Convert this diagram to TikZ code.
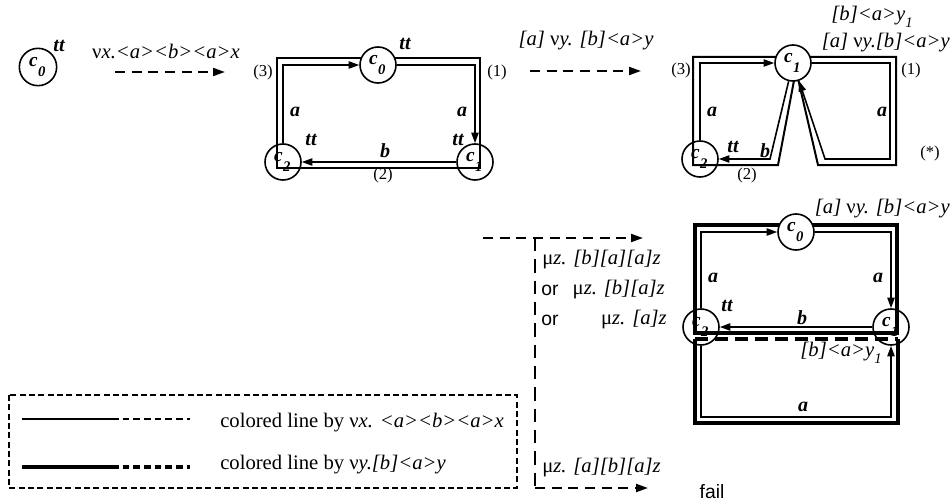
\documentclass[tikz,border=0pt]{standalone}
\usepackage{fontspec}
\setmainfont{Liberation Serif}
\newfontfamily\sansfam{Liberation Sans}
\usetikzlibrary{arrows.meta}
\newcommand{\sbx}[1]{\raisebox{-0.35em}{\fontsize{11}{11}\selectfont #1}}
\newcommand{\cst}[1]{\kern-1pt c\kern0.3pt\raisebox{-0.55em}{\fontsize{11}{11}\selectfont #1}}
\tikzset{
  state/.style={circle, draw, line width=1.2pt, minimum size=27pt, inner sep=0pt,
    font=\fontsize{14.5}{14.5}\selectfont\bfseries\itshape},
  wstate/.style={state, fill=white},
  edge/.style={line width=1.2pt, -{Triangle[length=8pt,width=5.5pt]}},
  contour/.style={line width=1.5pt, line join=miter},
  thickcontour/.style={line width=3pt, line join=miter},
  lbl/.style={inner sep=0pt, font=\fontsize{15}{15}\selectfont\bfseries\itshape},
  formula/.style={inner sep=0pt, font=\fontsize{15.5}{18}\selectfont\itshape},
  legtext/.style={inner sep=0pt, font=\fontsize{15.5}{18}\selectfont},
  num/.style={inner sep=0pt, font=\fontsize{12.5}{14}\selectfont},
  sanslbl/.style={inner sep=0pt, font=\fontsize{14.5}{16}\selectfont\sansfam},
  darrow/.style={line width=1.5pt, dash pattern=on 7.5pt off 5pt, -{Triangle[length=9pt,width=6pt]}},
  vdash/.style={line width=1.5pt, dash pattern=on 10pt off 6pt},
  legbox/.style={line width=1.2pt, dash pattern=on 4.5pt off 2.5pt},
  legthin/.style={line width=1.2pt},
  legthick/.style={line width=2.6pt},
}
\begin{document}
\begin{tikzpicture}[x=0.75pt,y=-0.75pt]
\path[use as bounding box] (0,0) rectangle (952,503);

% ---------- top-left state and first transformation ----------
\node[state, minimum size=28pt] (s0) at (38,67) {\cst{0}};
\node[lbl] (s0tt) at (59,46) {tt};
\node[formula] (f1) at (166,51) {\textup{ν}x.<a><b><a>x};
\coordinate (t1s) at (115,72);
\coordinate (t1e) at (225,72);
\draw[darrow] (t1s) -- (t1e);

% ---------- middle graph ----------
\draw[contour] (277,58) rectangle (480,168);
\node[wstate] (m0) at (378,65) {\cst{0}};
\node[state] (m1) at (475,162) {\cst{1}};
\node[state] (m2) at (283,162) {\cst{2}};
\draw[edge] (m2.north) |- (m0);
\draw[edge] (m0) -| (m1);
\draw[edge] (m1) -- (m2);
\node[lbl] (m0tt) at (405,44) {tt};
\node[lbl] (m2tt) at (311,140) {tt};
\node[lbl] (m1tt) at (458,140) {tt};
\node[lbl] (ma1) at (295,112) {a};
\node[lbl] (ma2) at (462,112) {a};
\node[lbl] (mb) at (385,151) {b};
\node[num] (m3n) at (263,72) {(3)};
\node[num] (m1n) at (497,72) {(1)};
\node[num] (m2n) at (383,175) {(2)};

% ---------- second transformation ----------
\node[formula] (f2) at (586,41) {[a] \textup{ν}y. [b]<a>y};
\coordinate (t2s) at (530,71);
\coordinate (t2e) at (641,71);
\draw[darrow] (t2s) -- (t2e);

% ---------- top-right graph ----------
\draw[contour] (693,57) -- (896,57) -- (896,165) -- (818,165) -- (796,70) -- (778,165) -- (693,165) -- cycle;
\node[wstate] (r1) at (793,63) {\cst{1}};
\node[state] (r2) at (700,159) {\cst{2}};
\coordinate (rA) at (890,159);
\coordinate (rB) at (825,159);
\coordinate (rC) at (770,159);
\draw[edge] (r2) |- (r1);
\draw[edge] (r1) -| (rA) -- (rB) -- (r1);
\draw[edge] (r1) -- (rC) -- (r2);
\node[formula] (f3) at (872,17) {[b]<a>y\sbx{1}};
\node[formula, anchor=east] (f4) at (950,43) {[a] \textup{ν}y.[b]<a>y};
\node[num] (r3n) at (681,70) {(3)};
\node[num] (r1n) at (911,70) {(1)};
\node[num] (r2n) at (747,175) {(2)};
\node[num] (rsn) at (930,153) {(*)};
\node[lbl] (ra1) at (712,112) {a};
\node[lbl] (ra2) at (882,112) {a};
\node[lbl] (rtt) at (733,147) {tt};
\node[lbl] (rb) at (765,151) {b};

% ---------- left branching arrows ----------
\coordinate (lin) at (483,238);
\coordinate (lsplit) at (535,238);
\coordinate (lout1) at (643,238);
\coordinate (lcorner) at (535,488);
\coordinate (lout2) at (648,488);
\draw[darrow] (lin) -- (lout1);
\draw[vdash] (lsplit) -- (lcorner);
\draw[darrow] (lcorner) -- (lout2);
\node[formula, anchor=west] (mu1) at (542,260) {\textup{μ}z. [b][a][a]z};
\node[sanslbl, anchor=west] (or1) at (541,290) {or};
\node[formula, anchor=east] (mu2) at (665,290) {\textup{μ}z. [b][a]z};
\node[sanslbl, anchor=west] (or2) at (541,320) {or};
\node[formula, anchor=east] (mu3) at (667,320) {\textup{μ}z. [a]z};
\node[formula, anchor=west] (mu4) at (542,468) {\textup{μ}z. [a][b][a]z};
\node[sanslbl] (fail) at (712,492) {fail};

% ---------- bottom-right graph ----------
\draw[thickcontour] (695,225) rectangle (897,333);
\draw[thickcontour] (695,339) -- (695,423) -- (898,423) -- (898,339);
\draw[thickcontour, dash pattern=on 10pt off 5pt] (695,339) -- (898,339);
\node[wstate] (b0) at (796,232) {\cst{0}};
\node[state] (b1) at (891,327) {\cst{1}};
\node[state] (b2) at (701,327) {\cst{2}};
\coordinate (bC) at (891,417);
\draw[edge] (b2) |- (b0);
\draw[edge] (b0) -| (b1);
\draw[edge] (b1) -- (b2);
\draw[edge] (b2) |- (bC) -- (b1);
\node[formula, anchor=east] (f5) at (950,209) {[a] \textup{ν}y. [b]<a>y};
\node[formula] (f6) at (841,353) {[b]<a>y\sbx{1}};
\node[lbl] (ba1) at (713,278) {a};
\node[lbl] (ba2) at (878,278) {a};
\node[lbl] (btt) at (727,306) {tt};
\node[lbl] (bb) at (802,318) {b};
\node[lbl] (ba3) at (803,407) {a};

% ---------- legend ----------
\draw[legbox] (9,395) rectangle (517,488);
\coordinate (l1a) at (22,419);
\coordinate (l1b) at (112,419);
\coordinate (l1c) at (190,419);
\coordinate (l2a) at (22,467);
\coordinate (l2b) at (112,467);
\coordinate (l2c) at (190,467);
\draw[legthin] (l1a) -- (l1b);
\draw[legthin, dash pattern=on 5pt off 3pt] (l1b) -- (l1c);
\draw[legthick] (l2a) -- (l2b);
\draw[legthick, dash pattern=on 5pt off 3pt] (l2b) -- (l2c);
\node[legtext, anchor=west] (lt1) at (220,423) {colored line by ν\textit{x. <a><b><a>x}};
\node[legtext, anchor=west] (lt2) at (220,465) {colored line by ν\textit{y.[b]<a>y}};
\end{tikzpicture}
\end{document}
